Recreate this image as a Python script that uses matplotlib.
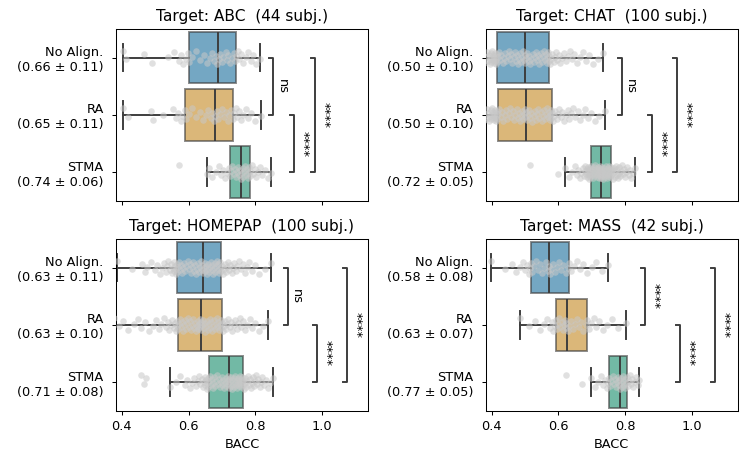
import colorsys
import numpy as np
import matplotlib.pyplot as plt
from matplotlib.colors import to_rgb

# methods and panel titles
methods = ["No Align.", "RA", "STMA"]
titles = ["Target: ABC  (44 subj.)", "Target: CHAT  (100 subj.)",
          "Target: HOMEPAP  (100 subj.)", "Target: MASS  (42 subj.)"]

# mean +- std shown in the tick labels
stats_abc = ["(0.66 ± 0.11)", "(0.65 ± 0.11)", "(0.74 ± 0.06)"]
stats_chat = ["(0.50 ± 0.10)", "(0.50 ± 0.10)", "(0.72 ± 0.05)"]
stats_homepap = ["(0.63 ± 0.11)", "(0.63 ± 0.10)", "(0.71 ± 0.08)"]
stats_mass = ["(0.58 ± 0.08)", "(0.63 ± 0.07)", "(0.77 ± 0.05)"]

# per-subject BACC
abc_noalign = [0.405, 0.412, 0.466, 0.491, 0.538, 0.557, 0.572, 0.578, 0.584, 0.591, 0.598,
               0.601, 0.609, 0.622, 0.633, 0.646, 0.654, 0.663, 0.669, 0.676, 0.681, 0.686,
               0.690, 0.694, 0.699, 0.704, 0.711, 0.716, 0.719, 0.724, 0.731, 0.735, 0.740,
               0.743, 0.748, 0.752, 0.758, 0.763, 0.771, 0.779, 0.786, 0.793, 0.802, 0.814]
abc_ra = [0.403, 0.418, 0.487, 0.493, 0.522, 0.553, 0.563, 0.569, 0.576, 0.581, 0.588,
          0.591, 0.602, 0.611, 0.623, 0.634, 0.642, 0.651, 0.659, 0.666, 0.671, 0.676,
          0.680, 0.685, 0.689, 0.694, 0.701, 0.706, 0.712, 0.717, 0.722, 0.728, 0.733,
          0.736, 0.741, 0.746, 0.752, 0.757, 0.763, 0.771, 0.779, 0.788, 0.799, 0.817]
abc_stma = [0.570, 0.655, 0.662, 0.671, 0.683, 0.691, 0.698, 0.704, 0.709, 0.714, 0.721,
            0.723, 0.727, 0.731, 0.736, 0.740, 0.743, 0.746, 0.749, 0.752, 0.754, 0.757,
            0.759, 0.762, 0.764, 0.767, 0.769, 0.772, 0.774, 0.777, 0.779, 0.781, 0.783,
            0.785, 0.789, 0.793, 0.798, 0.803, 0.809, 0.814, 0.821, 0.829, 0.838, 0.846]

chat_noalign = [0.358, 0.366, 0.372, 0.378, 0.383, 0.386, 0.389, 0.391, 0.394, 0.396,
                0.398, 0.399, 0.401, 0.402, 0.404, 0.405, 0.407, 0.408, 0.409, 0.410,
                0.411, 0.412, 0.414, 0.415, 0.416,
                0.418, 0.422, 0.425, 0.429, 0.433, 0.436, 0.441, 0.444, 0.448, 0.451,
                0.455, 0.458, 0.462, 0.466, 0.469, 0.473, 0.476, 0.480, 0.483, 0.486,
                0.489, 0.492, 0.494, 0.497, 0.499,
                0.501, 0.504, 0.507, 0.511, 0.513, 0.516, 0.519, 0.523, 0.526, 0.529,
                0.532, 0.535, 0.538, 0.541, 0.545, 0.548, 0.551, 0.554, 0.557, 0.560,
                0.563, 0.565, 0.567, 0.569, 0.571,
                0.573, 0.576, 0.579, 0.582, 0.586, 0.589, 0.593, 0.597, 0.601, 0.606,
                0.611, 0.617, 0.622, 0.628, 0.634, 0.641, 0.648, 0.656, 0.664, 0.672,
                0.681, 0.691, 0.703, 0.717, 0.733]
chat_ra = [0.355, 0.363, 0.371, 0.377, 0.381, 0.385, 0.388, 0.390, 0.393, 0.395,
           0.397, 0.399, 0.400, 0.402, 0.403, 0.405, 0.406, 0.408, 0.409, 0.410,
           0.412, 0.413, 0.414, 0.415, 0.416,
           0.419, 0.423, 0.427, 0.431, 0.435, 0.439, 0.443, 0.447, 0.451, 0.455,
           0.459, 0.463, 0.467, 0.471, 0.475, 0.479, 0.482, 0.486, 0.489, 0.492,
           0.495, 0.497, 0.499, 0.501, 0.503,
           0.505, 0.508, 0.512, 0.515, 0.519, 0.522, 0.526, 0.529, 0.533, 0.536,
           0.540, 0.543, 0.547, 0.550, 0.554, 0.557, 0.561, 0.564, 0.567, 0.570,
           0.572, 0.574, 0.576, 0.578, 0.579,
           0.581, 0.584, 0.588, 0.591, 0.595, 0.599, 0.603, 0.607, 0.612, 0.617,
           0.622, 0.628, 0.633, 0.639, 0.645, 0.651, 0.658, 0.665, 0.672, 0.680,
           0.689, 0.698, 0.709, 0.722, 0.739]
chat_stma = [0.515, 0.600, 0.620, 0.631, 0.641, 0.649, 0.655, 0.660, 0.665, 0.669,
             0.672, 0.675, 0.678, 0.680, 0.682, 0.684, 0.686, 0.687, 0.689, 0.690,
             0.691, 0.692, 0.693, 0.694, 0.695,
             0.697, 0.698, 0.700, 0.701, 0.703, 0.704, 0.706, 0.707, 0.709, 0.710,
             0.711, 0.713, 0.714, 0.715, 0.717, 0.718, 0.719, 0.720, 0.721, 0.722,
             0.723, 0.724, 0.725, 0.726, 0.726,
             0.728, 0.729, 0.730, 0.731, 0.733, 0.734, 0.735, 0.737, 0.738, 0.739,
             0.741, 0.742, 0.743, 0.745, 0.746, 0.747, 0.749, 0.750, 0.751, 0.752,
             0.754, 0.755, 0.756, 0.757, 0.758,
             0.760, 0.762, 0.764, 0.766, 0.768, 0.770, 0.772, 0.774, 0.776, 0.778,
             0.780, 0.782, 0.785, 0.787, 0.790, 0.793, 0.796, 0.799, 0.802, 0.806,
             0.810, 0.814, 0.818, 0.823, 0.828]

homepap_noalign = [0.387, 0.431, 0.462, 0.471, 0.476, 0.489, 0.498, 0.506, 0.514, 0.521,
                   0.526, 0.531, 0.535, 0.539, 0.543, 0.546, 0.549, 0.552, 0.555, 0.557,
                   0.559, 0.561, 0.562, 0.564, 0.565,
                   0.567, 0.570, 0.573, 0.576, 0.580, 0.583, 0.586, 0.590, 0.593, 0.597,
                   0.600, 0.604, 0.607, 0.610, 0.614, 0.617, 0.620, 0.623, 0.626, 0.629,
                   0.632, 0.635, 0.637, 0.639, 0.641,
                   0.643, 0.645, 0.648, 0.650, 0.652, 0.655, 0.657, 0.659, 0.662, 0.664,
                   0.666, 0.669, 0.671, 0.673, 0.676, 0.678, 0.680, 0.683, 0.685, 0.687,
                   0.689, 0.691, 0.693, 0.695, 0.697,
                   0.699, 0.702, 0.705, 0.708, 0.711, 0.714, 0.718, 0.721, 0.725, 0.729,
                   0.733, 0.737, 0.741, 0.746, 0.751, 0.756, 0.762, 0.768, 0.774, 0.781,
                   0.789, 0.798, 0.812, 0.828, 0.846]
homepap_ra = [0.376, 0.392, 0.405, 0.418, 0.436, 0.448, 0.459, 0.471, 0.482, 0.494,
              0.503, 0.511, 0.518, 0.525, 0.531, 0.537, 0.542, 0.547, 0.551, 0.555,
              0.558, 0.561, 0.564, 0.566, 0.568,
              0.570, 0.573, 0.576, 0.579, 0.583, 0.586, 0.589, 0.592, 0.595, 0.598,
              0.601, 0.604, 0.607, 0.610, 0.613, 0.616, 0.619, 0.622, 0.625, 0.627,
              0.629, 0.631, 0.633, 0.635, 0.636,
              0.638, 0.640, 0.643, 0.645, 0.648, 0.650, 0.653, 0.655, 0.658, 0.660,
              0.663, 0.665, 0.668, 0.670, 0.673, 0.676, 0.678, 0.681, 0.684, 0.686,
              0.689, 0.691, 0.694, 0.696, 0.698,
              0.700, 0.703, 0.706, 0.709, 0.712, 0.716, 0.719, 0.723, 0.727, 0.731,
              0.735, 0.739, 0.744, 0.748, 0.753, 0.758, 0.764, 0.770, 0.776, 0.783,
              0.791, 0.800, 0.810, 0.822, 0.836]
homepap_stma = [0.458, 0.466, 0.474, 0.545, 0.561, 0.575, 0.588, 0.596, 0.604, 0.611,
                0.617, 0.622, 0.627, 0.631, 0.635, 0.639, 0.642, 0.645, 0.648, 0.650,
                0.652, 0.654, 0.656, 0.658, 0.659,
                0.661, 0.664, 0.666, 0.669, 0.672, 0.674, 0.677, 0.680, 0.683, 0.685,
                0.688, 0.691, 0.693, 0.696, 0.699, 0.701, 0.704, 0.706, 0.709, 0.711,
                0.713, 0.715, 0.717, 0.719, 0.720,
                0.722, 0.724, 0.726, 0.728, 0.730, 0.731, 0.733, 0.735, 0.737, 0.739,
                0.740, 0.742, 0.744, 0.745, 0.747, 0.749, 0.750, 0.752, 0.754, 0.755,
                0.757, 0.758, 0.760, 0.761, 0.762,
                0.764, 0.766, 0.768, 0.770, 0.773, 0.775, 0.778, 0.780, 0.783, 0.786,
                0.789, 0.792, 0.795, 0.798, 0.802, 0.805, 0.809, 0.813, 0.817, 0.821,
                0.826, 0.831, 0.837, 0.844, 0.852]

mass_noalign = [0.398, 0.441, 0.462, 0.474, 0.486, 0.495, 0.501, 0.506, 0.511, 0.514,
                0.517, 0.521, 0.527, 0.533, 0.539, 0.546, 0.552, 0.558, 0.563, 0.568,
                0.571, 0.575, 0.579, 0.584, 0.590, 0.596, 0.603, 0.609, 0.615, 0.622,
                0.628, 0.632, 0.638, 0.646, 0.655, 0.664, 0.674, 0.685, 0.699, 0.713,
                0.729, 0.748]
mass_ra = [0.485, 0.512, 0.531, 0.546, 0.558, 0.567, 0.574, 0.580, 0.585, 0.589,
           0.592, 0.596, 0.599, 0.603, 0.606, 0.610, 0.613, 0.616, 0.619, 0.622,
           0.624, 0.628, 0.632, 0.638, 0.644, 0.650, 0.656, 0.662, 0.668, 0.674,
           0.681, 0.685, 0.690, 0.697, 0.705, 0.713, 0.722, 0.732, 0.745, 0.760,
           0.779, 0.801]
mass_stma = [0.623, 0.670, 0.696, 0.708, 0.718, 0.726, 0.733, 0.739, 0.744, 0.748,
             0.751, 0.755, 0.758, 0.762, 0.765, 0.769, 0.772, 0.775, 0.778, 0.780,
             0.782, 0.784, 0.786, 0.788, 0.790, 0.792, 0.794, 0.796, 0.798, 0.800,
             0.802, 0.805, 0.808, 0.811, 0.814, 0.817, 0.820, 0.824, 0.828, 0.832,
             0.837, 0.842]

# significance tests: pairs, labels and where the bracket sits
pairs = [(0, 1), (1, 2), (0, 2)]
sig_abc = ["ns", "****", "****"]
sig_chat = ["ns", "****", "****"]
sig_homepap = ["ns", "****", "****"]
sig_mass = ["****", "****", "****"]
bracket_abc = [0.853, 0.916, 0.979]
bracket_chat = [0.789, 0.879, 0.954]
bracket_homepap = [0.896, 0.984, 1.074]
bracket_mass = [0.859, 0.964, 1.069]

panels = [
    ([abc_noalign, abc_ra, abc_stma], stats_abc, sig_abc, bracket_abc),
    ([chat_noalign, chat_ra, chat_stma], stats_chat, sig_chat, bracket_chat),
    ([homepap_noalign, homepap_ra, homepap_stma], stats_homepap, sig_homepap, bracket_homepap),
    ([mass_noalign, mass_ra, mass_stma], stats_mass, sig_mass, bracket_mass),
]


def desat(c, prop=0.75):
    # same idea as seaborn's saturation for box colours
    h, l, s = colorsys.rgb_to_hls(*to_rgb(c))
    return colorsys.hls_to_rgb(h, l, s * prop)


colors = [desat(c) for c in ["#0173B2", "#DE8F05", "#029E73"]]
dark = (0.24, 0.24, 0.24)

fig, axes = plt.subplots(2, 2, sharex=True, figsize=(748 / 92.5, 461 / 92.5), dpi=92.5)
fig.subplots_adjust(left=0.1547, right=0.9866, bottom=0.1091, top=0.937,
                    wspace=0.465, hspace=0.223)

for ax, title, (groups, stats, sig, levels) in zip(axes.flat, titles, panels):
    bp = ax.boxplot(groups, positions=[0, 1, 2], orientation="horizontal",
                    widths=0.9, capwidths=0.48, patch_artist=True, showfliers=False,
                    whiskerprops=dict(color=dark, lw=1.5),
                    capprops=dict(color=dark, lw=1.5),
                    medianprops=dict(color=dark, lw=1.5),
                    boxprops=dict(lw=1.5))
    for patch, c in zip(bp["boxes"], colors):
        patch.set_facecolor((*c, 0.6))
        patch.set_edgecolor((*dark, 0.6))

    # jittered subject points
    for i, vals in enumerate(groups):
        n = len(vals)
        jit = ((np.arange(n) * 0.618034) % 1 - 0.5) * 0.24
        ax.scatter(vals, i + jit, s=26, color="#c8c8c8", alpha=0.55, lw=0, zorder=3)

    # significance brackets
    arm = 0.012
    for (a, b), lvl, txt in zip(pairs, levels, sig):
        ax.plot([lvl - arm, lvl, lvl, lvl - arm], [a, a, b, b], color=dark, lw=1.5)
        ax.annotate(txt, xy=(lvl, (a + b) / 2), xytext=(2, 0), textcoords="offset points",
                    rotation=270, ha="left", va="center", fontsize=10)

    ax.set_ylim(2.5, -0.5)
    ax.set_yticks([0, 1, 2], [f"{m}\n{s}" for m, s in zip(methods, stats)])
    ax.tick_params(axis="y", pad=6)
    ax.set_xlim(0.382, 1.137)
    ax.set_xticks([0.4, 0.6, 0.8, 1.0])
    ax.set_title(title)

for ax in axes[1]:
    ax.set_xlabel("BACC")

fig.savefig("out.png", dpi=92.5)
